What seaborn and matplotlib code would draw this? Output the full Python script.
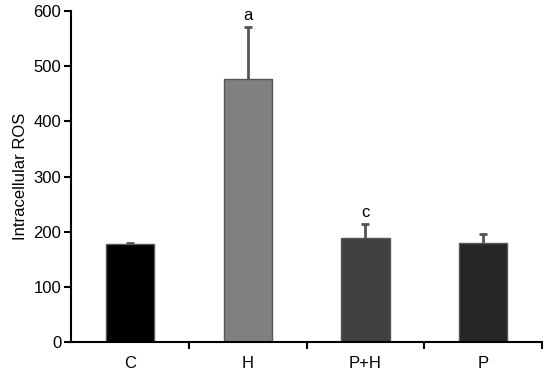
import matplotlib
matplotlib.use("Agg")
import matplotlib.pyplot as plt
import seaborn as sns
import pandas as pd

categories = ["C", "H", "P+H", "P"]
values = [177, 476, 189, 180]
errors = [3, 95, 25, 16]
letters = ["", "a", "c", ""]
colors = ["#000000", "#808080", "#404040", "#262626"]

sns.set_style("white")
plt.rcParams['font.family'] = ['Liberation Sans', 'DejaVu Sans']
plt.rcParams['text.color'] = 'black'
plt.rcParams['axes.labelcolor'] = 'black'
plt.rcParams['xtick.color'] = 'black'
plt.rcParams['ytick.color'] = 'black'

fig = plt.figure(figsize=(5.46, 3.78), dpi=100)
ax = fig.add_axes([0.130, 0.095, 0.863, 0.876])

df = pd.DataFrame({"cat": categories, "val": values})
sns.barplot(data=df, x="cat", y="val", hue="cat", palette=colors, legend=False,
            width=0.41, edgecolor="#555555", linewidth=1.0, ax=ax, errorbar=None)

xs = list(range(len(categories)))
eb = ax.errorbar(xs, values, yerr=[[0]*len(errors), errors], fmt="none",
                 ecolor="#555555", elinewidth=2, capsize=3, capthick=2)
# hide the caps at the bar tops (lower side)
caplines = eb[1]
if len(caplines) == 2:
    caplines[0].set_visible(False)

for x, v, e, t in zip(xs, values, errors, letters):
    if t:
        ax.text(x, v + e + 8, t, ha="center", va="bottom", fontsize=12)

ax.set_xlim(-0.5, 3.5)
ax.set_ylim(0, 600)
ax.set_yticks(range(0, 601, 100))
ax.set_xlabel("")
ax.set_ylabel("Intracellular ROS", fontsize=12)
ax.tick_params(axis="y", labelsize=12, length=5, width=1.5, direction="out", left=True, pad=2)
ax.tick_params(axis="x", which="major", labelsize=12, length=0, pad=10)
ax.set_xticks([0.5, 1.5, 2.5, 3.5], minor=True)
ax.tick_params(axis="x", which="minor", length=5, width=1.5, direction="out", bottom=True)

for s in ["top", "right"]:
    ax.spines[s].set_visible(False)
for s in ["left", "bottom"]:
    ax.spines[s].set_color("black")
    ax.spines[s].set_linewidth(1.5)

fig.savefig("out.png", dpi=100)
